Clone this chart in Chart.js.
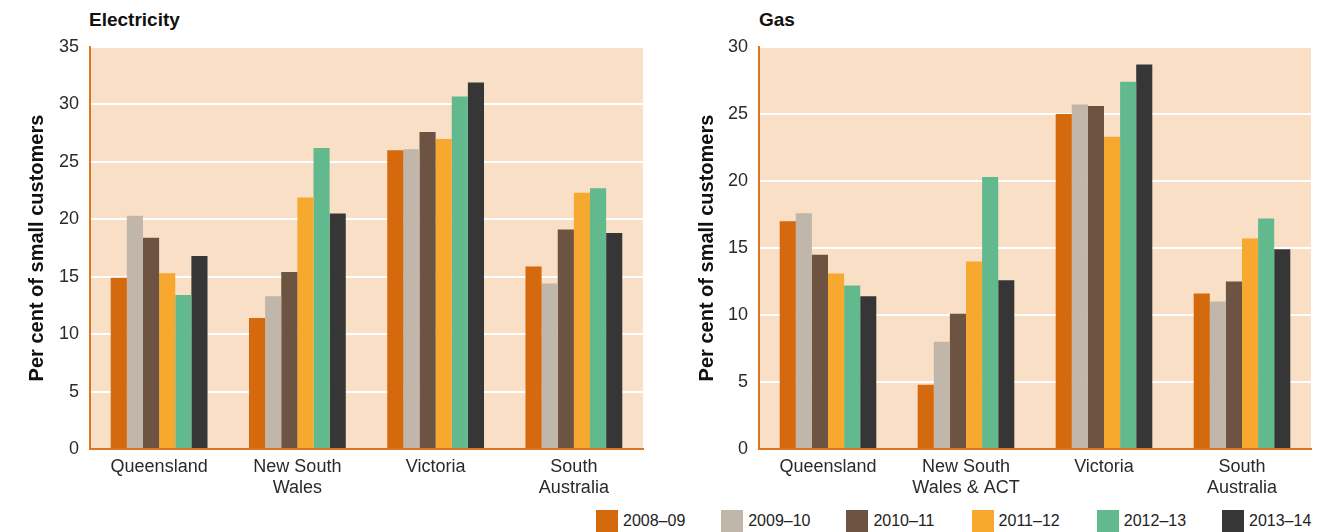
<!DOCTYPE html>
<html>
<head>
<meta charset="utf-8">
<script src="https://cdn.jsdelivr.net/npm/chart.js@4.4.1/dist/chart.umd.min.js"></script>
<style>
  html, body { margin: 0; padding: 0; background: #ffffff; }
  body { width: 1340px; height: 532px; position: relative; overflow: hidden;
         font-family: "Liberation Sans", Arial, sans-serif; }
  .panel { position: absolute; top: 0; height: 500px; }
  .title { position: absolute; top: 9px; font-weight: bold; font-size: 19px; color: #111; }
  #legend { position: absolute; left: 596px; top: 510px; height: 22px; }
  .item { position: absolute; top: 0; height: 22px; display: flex; align-items: center; }
  .sw { width: 22px; height: 22px; margin-right: 5px; }
  .lbl { font-size: 16px; color: #222; white-space: nowrap; }
</style>
</head>
<body>
<div class="title" style="left:89px">Electricity</div>
<div class="title" style="left:759px">Gas</div>
<div class="panel" style="left:0;width:670px"><canvas id="elec" width="670" height="500"></canvas></div>
<div class="panel" style="left:670px;width:670px"><canvas id="gas" width="670" height="500"></canvas></div>
<div id="legend"></div>
<script>
// Financial years shown in both panels
const years = ['2008–09', '2009–10', '2010–11', '2011–12', '2012–13', '2013–14'];
const yearColors = ['#d5690d', '#c1b6aa', '#6d5341', '#f6a82f', '#61b98d', '#363636'];

// Regions
const elecRegions = ['Queensland', ['New South', 'Wales'], 'Victoria', ['South', 'Australia']];
const gasRegions = ['Queensland', ['New South', 'Wales & ACT'], 'Victoria', ['South', 'Australia']];

// Electricity: per cent of small customers, one array per year (QLD, NSW, VIC, SA)
const elec0809 = [14.9, 11.4, 26.0, 15.9];
const elec0910 = [20.3, 13.3, 26.1, 14.4];
const elec1011 = [18.4, 15.4, 27.6, 19.1];
const elec1112 = [15.3, 21.9, 27.0, 22.3];
const elec1213 = [13.4, 26.2, 30.7, 22.7];
const elec1314 = [16.8, 20.5, 31.9, 18.8];

// Gas: per cent of small customers, one array per year (QLD, NSW & ACT, VIC, SA)
const gas0809 = [17.0, 4.8, 25.0, 11.6];
const gas0910 = [17.6, 8.0, 25.7, 11.0];
const gas1011 = [14.5, 10.1, 25.6, 12.5];
const gas1112 = [13.1, 14.0, 23.3, 15.7];
const gas1213 = [12.2, 20.3, 27.4, 17.2];
const gas1314 = [11.4, 12.6, 28.7, 14.9];

const elecSeries = [elec0809, elec0910, elec1011, elec1112, elec1213, elec1314];
const gasSeries = [gas0809, gas0910, gas1011, gas1112, gas1213, gas1314];

// Axis ticks
const elecMax = 35, gasMax = 30, tickStep = 5;

const AXIS_ORANGE = '#dc7422';
const PLOT_BG = '#f8dfc6';

// Fills the plot area with the panel background colour
const plotBackground = {
  id: 'plotBackground',
  beforeDraw(chart) {
    const { ctx, chartArea: a } = chart;
    ctx.save();
    ctx.fillStyle = PLOT_BG;
    ctx.fillRect(a.left, a.top, a.right - a.left, a.bottom - a.top);
    ctx.restore();
  }
};

function makeChart(id, labels, series, max, yWidth, padRight) {
  const datasets = series.map((vals, i) => ({
    label: years[i],
    data: vals,
    backgroundColor: yearColors[i],
    borderWidth: 0,
    barPercentage: 1.0,
    categoryPercentage: 0.70
  }));
  return new Chart(document.getElementById(id), {
    type: 'bar',
    data: { labels, datasets },
    plugins: [plotBackground],
    options: {
      responsive: false,
      animation: false,
      layout: { padding: { top: 47, right: padRight, bottom: 0, left: 0 } },
      plugins: { legend: { display: false }, tooltip: { enabled: false }, title: { display: false } },
      scales: {
        x: {
          grid: { display: false, drawTicks: false },
          border: { display: true, color: AXIS_ORANGE, width: 2 },
          ticks: {
            padding: 7,
            color: '#2a2a2a',
            font: { family: '"Liberation Sans", Arial, sans-serif', size: 18 },
            maxRotation: 0, autoSkip: false
          },
          afterFit(scale) { scale.height = 51; }
        },
        y: {
          min: 0, max: max,
          grid: {
            drawTicks: false,
            color: ctx => (ctx.tick && ctx.tick.value === 0) ? 'rgba(0,0,0,0)' : '#ffffff',
            lineWidth: 2
          },
          border: { display: true, color: AXIS_ORANGE, width: 2 },
          ticks: {
            stepSize: tickStep,
            padding: 11,
            color: '#2a2a2a',
            font: { family: '"Liberation Sans", Arial, sans-serif', size: 18 }
          },
          title: {
            display: true,
            text: 'Per cent of small customers',
            color: '#111',
            padding: { top: 25, bottom: 0 },
            font: { family: '"Liberation Sans", Arial, sans-serif', size: 20, weight: 'bold' }
          },
          afterFit(scale) { scale.width = yWidth; }
        }
      }
    }
  });
}

makeChart('elec', elecRegions, elecSeries, elecMax, 90, 27);
makeChart('gas', gasRegions, gasSeries, gasMax, 89, 29);

// Shared legend below the panels
const legend = document.getElementById('legend');
years.forEach((y, i) => {
  const item = document.createElement('div');
  item.className = 'item';
  item.style.left = (i * 125.2) + 'px';
  const sw = document.createElement('div');
  sw.className = 'sw';
  sw.style.background = yearColors[i];
  const lbl = document.createElement('span');
  lbl.className = 'lbl';
  lbl.textContent = y;
  item.appendChild(sw);
  item.appendChild(lbl);
  legend.appendChild(item);
});
</script>
</body>
</html>
